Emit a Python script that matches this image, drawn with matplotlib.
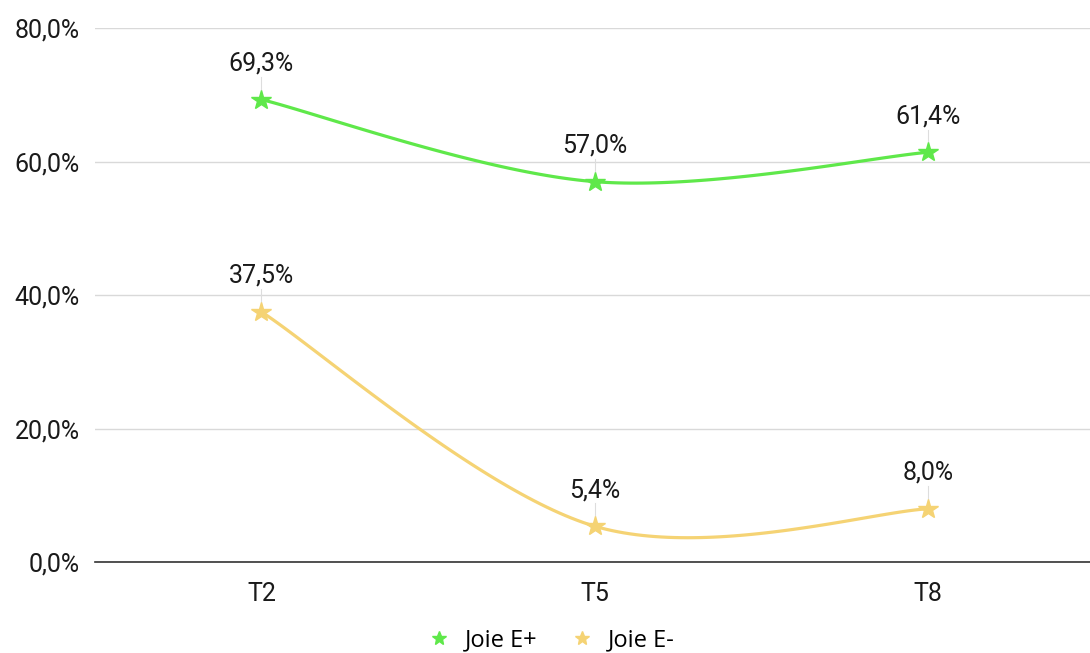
import numpy as np
import matplotlib.pyplot as plt

categories = ["T2", "T5", "T8"]
joie_plus = [69.3, 57.0, 61.4]
joie_minus = [37.5, 5.4, 8.0]
series_names = ["Joie E+", "Joie E-"]
colors = ["#5FE84A", "#F5D374"]


def smooth(xs, ys, n=60):
    # Excel-like smoothed line: Catmull-Rom style bezier segments
    xs = np.asarray(xs, float)
    ys = np.asarray(ys, float)
    px, py = [], []
    for i in range(len(xs) - 1):
        x0, y0 = (xs[i - 1], ys[i - 1]) if i > 0 else (xs[i], ys[i])
        x1, y1 = xs[i], ys[i]
        x2, y2 = xs[i + 1], ys[i + 1]
        x3, y3 = (xs[i + 2], ys[i + 2]) if i + 2 < len(xs) else (x2, y2)
        c1 = (x1 + (x2 - x0) / 6, y1 + (y2 - y0) / 6)
        c2 = (x2 - (x3 - x1) / 6, y2 - (y3 - y1) / 6)
        t = np.linspace(0, 1, n)
        bx = (1 - t) ** 3 * x1 + 3 * (1 - t) ** 2 * t * c1[0] + 3 * (1 - t) * t ** 2 * c2[0] + t ** 3 * x2
        by = (1 - t) ** 3 * y1 + 3 * (1 - t) ** 2 * t * c1[1] + 3 * (1 - t) * t ** 2 * c2[1] + t ** 3 * y2
        px.extend(bx)
        py.extend(by)
    return px, py


plt.rcParams['font.family'] = ['Roboto', 'DejaVu Sans']

fig = plt.figure(figsize=(10.9, 6.53), dpi=100)
ax = fig.add_axes([0.087, 0.139, 0.917, 0.818])

x = np.arange(len(categories))
for vals, name, col in zip([joie_plus, joie_minus], series_names, colors):
    sx, sy = smooth(x, vals)
    ax.plot(sx, sy, color=col, lw=2.3, zorder=3)
    ax.plot(x, vals, ls="none", marker="*", ms=15, color=col, zorder=4, label=name)
    for xi, v in zip(x, vals):
        ax.plot([xi, xi], [v + 1.2, v + 3.4], color="#dddddd", lw=0.8, zorder=2)
        ax.text(xi, v + 3.6, f"{v:.1f}%".replace(".", ","), ha="center", va="bottom",
                fontsize=18, color="#1a1a1a")

ax.set_xlim(-0.5, 2.5)
ax.set_ylim(0, 80)
ax.set_yticks([0, 20, 40, 60, 80])
ax.set_yticklabels([f"{v:.1f}%".replace(".", ",") for v in [0, 20, 40, 60, 80]])
ax.set_xticks(x)
ax.set_xticklabels(categories)
ax.tick_params(length=0, labelsize=18, colors="#1a1a1a")
ax.tick_params(axis="x", pad=14)
ax.tick_params(axis="y", pad=11)
ax.grid(axis="y", color="#d9d9d9", lw=1)
ax.set_axisbelow(True)
for s in ["top", "right", "left"]:
    ax.spines[s].set_visible(False)
ax.spines["bottom"].set_color("#333333")
ax.spines["bottom"].set_linewidth(1.2)

leg = fig.legend(loc="center", bbox_to_anchor=(0.5, 0.02), ncol=2, frameon=False,
                 handletextpad=0.1, columnspacing=0.9, markerscale=0.7,
                 prop={"family": "Open Sans", "size": 17})

fig.savefig("out.png", dpi=100)
